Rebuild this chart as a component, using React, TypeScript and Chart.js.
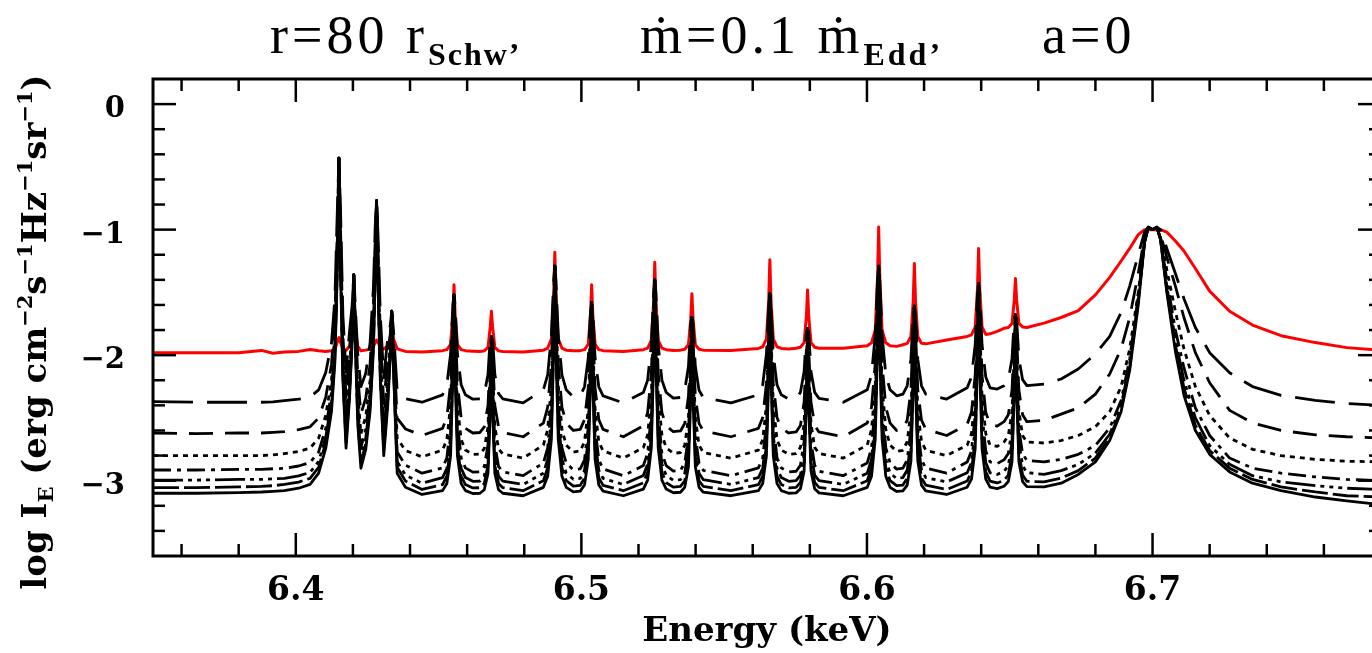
import React, { useEffect, useRef } from "react";
import { Chart, registerables } from "chart.js";

Chart.register(...registerables);

// ---------------- data ----------------
const energyKeV = [
  6.35, 6.365, 6.38, 6.388, 6.392,
  6.396, 6.401, 6.405, 6.408, 6.4105, 6.4125, 6.4137, 6.4145, 6.4151, 6.4157, 6.4165, 6.4176, 6.4188, 6.4197, 6.4203, 6.4209, 6.4217,
  6.4228, 6.4245, 6.426, 6.4272, 6.4278, 6.4283, 6.4288, 6.4296, 6.4308, 6.4322, 6.4331, 6.4336, 6.4342, 6.4355, 6.4384, 6.4442,
  6.4514, 6.4529, 6.4542, 6.455, 6.4554, 6.4558, 6.4566, 6.4579, 6.4594, 6.462,
  6.4645, 6.466, 6.4673, 6.4681, 6.4685, 6.4689, 6.4697, 6.471, 6.4725, 6.4796,
  6.4867, 6.4882, 6.4895, 6.4903, 6.4907, 6.4911, 6.4919, 6.4932, 6.4947, 6.4972,
  6.4996, 6.5011, 6.5024, 6.5032, 6.5036, 6.504, 6.5048, 6.5061, 6.5076, 6.5147,
  6.5217, 6.5232, 6.5245, 6.5253, 6.5257, 6.5261, 6.5269, 6.5282, 6.5297, 6.5322,
  6.5347, 6.5362, 6.5375, 6.5383, 6.5387, 6.5391, 6.5399, 6.5412, 6.5427, 6.5524,
  6.562, 6.5635, 6.5648, 6.5656, 6.566, 6.5664, 6.5672, 6.5685, 6.57, 6.5726,
  6.5752, 6.5767, 6.578, 6.5788, 6.5792, 6.5796, 6.5804, 6.5817, 6.5832, 6.5917,
  6.6001, 6.6016, 6.6029, 6.6037, 6.6041, 6.6045, 6.6053, 6.6066, 6.6081, 6.6104,
  6.6126, 6.6141, 6.6154, 6.6162, 6.6166, 6.617, 6.6178, 6.6191, 6.6206, 6.6279,
  6.6351, 6.6366, 6.6379, 6.6387, 6.6391, 6.6395, 6.6403, 6.6416, 6.6431, 6.6456,
  6.648, 6.6495, 6.6508, 6.6516, 6.652, 6.6524, 6.6532, 6.6545, 6.656,
  6.662, 6.668, 6.674, 6.68, 6.685, 6.689, 6.692, 6.695, 6.6972, 6.6985, 6.7, 6.7015, 6.7028, 6.705, 6.708, 6.711,
  6.715, 6.72, 6.727, 6.735, 6.745, 6.757, 6.768, 6.78,
];

const redSolid = [
  -1.98, -1.98, -1.98, -1.962, -1.985,
  -1.975, -1.97, -1.955, -1.965, -1.97, -1.965, -1.95, -1.9, -1.86, -1.9, -1.95, -1.96, -1.93, -1.8, -1.64, -1.8, -1.93,
  -1.965, -1.96, -1.95, -1.93, -1.9, -1.88, -1.9, -1.93, -1.95, -1.93, -1.85, -1.77, -1.87, -1.95, -1.97, -1.975,
  -1.964, -1.956, -1.913, -1.679, -1.44, -1.679, -1.913, -1.956, -1.964, -1.968,
  -1.971, -1.966, -1.938, -1.773, -1.65, -1.773, -1.938, -1.966, -1.971, -1.975,
  -1.96, -1.944, -1.871, -1.534, -1.18, -1.534, -1.871, -1.944, -1.96, -1.965,
  -1.964, -1.956, -1.913, -1.679, -1.44, -1.679, -1.913, -1.956, -1.964, -1.97,
  -1.956, -1.944, -1.882, -1.58, -1.26, -1.58, -1.882, -1.944, -1.956, -1.962,
  -1.96, -1.953, -1.917, -1.709, -1.51, -1.709, -1.917, -1.953, -1.96, -1.962,
  -1.946, -1.933, -1.87, -1.564, -1.24, -1.564, -1.87, -1.933, -1.946, -1.95,
  -1.945, -1.937, -1.9, -1.688, -1.48, -1.688, -1.9, -1.937, -1.945, -1.945,
  -1.925, -1.902, -1.8, -1.388, -0.98, -1.388, -1.8, -1.902, -1.925, -1.93,
  -1.917, -1.906, -1.85, -1.569, -1.27, -1.569, -1.85, -1.906, -1.91, -1.88,
  -1.851, -1.839, -1.776, -1.472, -1.15, -1.472, -1.776, -1.835, -1.83, -1.81,
  -1.786, -1.779, -1.747, -1.558, -1.39, -1.558, -1.747, -1.775, -1.78,
  -1.745, -1.7, -1.645, -1.52, -1.38, -1.25, -1.15, -1.04, -1.0, -1.0, -1.0, -1.0, -1.0, -1.02, -1.09, -1.17,
  -1.31, -1.49, -1.65, -1.76, -1.845, -1.9, -1.94, -1.96,
];

const blackLongDash = [
  -2.37, -2.375, -2.375, -2.375, -2.372,
  -2.363, -2.351, -2.333, -2.277, -2.137, -1.904, -1.546, -0.88, -0.43, -0.88, -1.685, -2.137, -1.816, -1.61, -1.36, -1.63, -1.988,
  -2.251, -2.144, -1.904, -1.451, -0.98, -0.77, -1.05, -1.685, -2.18, -1.861, -1.76, -1.65, -1.8, -2.277, -2.347, -2.375,
  -2.316, -2.236, -1.991, -1.601, -1.52, -1.601, -1.991, -2.236, -2.316, -2.351,
  -2.348, -2.307, -2.155, -1.856, -1.85, -1.856, -2.155, -2.307, -2.348, -2.38,
  -2.276, -2.157, -1.841, -1.402, -1.29, -1.402, -1.841, -2.157, -2.276, -2.332,
  -2.324, -2.252, -2.025, -1.651, -1.58, -1.651, -2.025, -2.252, -2.324, -2.38,
  -2.297, -2.199, -1.917, -1.499, -1.4, -1.499, -1.917, -2.199, -2.297, -2.342,
  -2.337, -2.28, -2.088, -1.745, -1.7, -1.745, -2.088, -2.28, -2.337, -2.38,
  -2.316, -2.236, -1.991, -1.601, -1.51, -1.601, -1.991, -2.236, -2.316, -2.35,
  -2.344, -2.297, -2.13, -1.813, -1.79, -1.813, -2.13, -2.297, -2.344, -2.375,
  -2.276, -2.157, -1.841, -1.402, -1.29, -1.402, -1.841, -2.157, -2.276, -2.324,
  -2.31, -2.244, -2.032, -1.671, -1.61, -1.671, -2.032, -2.244, -2.31, -2.35,
  -2.26, -2.174, -1.917, -1.518, -1.43, -1.518, -1.917, -2.174, -2.26, -2.27,
  -2.243, -2.195, -2.026, -1.705, -1.68, -1.705, -2.026, -2.195, -2.243,
  -2.23, -2.19, -2.11, -1.99, -1.85, -1.66, -1.45, -1.2, -1.02, -0.98, -1.0, -0.98, -1.0, -1.15, -1.35, -1.55,
  -1.78, -1.98, -2.14, -2.25, -2.32, -2.36, -2.385, -2.4,
];

const blackDash = [
  -2.62, -2.625, -2.62, -2.62, -2.615,
  -2.609, -2.594, -2.571, -2.501, -2.334, -2.074, -1.696, -1.03, -0.43, -1.03, -1.84, -2.334, -1.98, -1.69, -1.36, -1.72, -2.166,
  -2.469, -2.343, -2.074, -1.598, -1.08, -0.77, -1.16, -1.84, -2.385, -2.028, -1.83, -1.65, -1.88, -2.501, -2.588, -2.64,
  -2.583, -2.497, -2.225, -1.719, -1.52, -1.719, -2.225, -2.497, -2.583, -2.62,
  -2.616, -2.572, -2.4, -1.995, -1.85, -1.995, -2.4, -2.572, -2.616, -2.65,
  -2.541, -2.415, -2.067, -1.51, -1.29, -1.51, -2.067, -2.415, -2.541, -2.6,
  -2.591, -2.514, -2.261, -1.772, -1.58, -1.772, -2.261, -2.514, -2.591, -2.65,
  -2.563, -2.458, -2.146, -1.611, -1.4, -1.611, -2.146, -2.458, -2.563, -2.61,
  -2.604, -2.543, -2.327, -1.874, -1.7, -1.874, -2.327, -2.543, -2.604, -2.65,
  -2.583, -2.497, -2.225, -1.719, -1.51, -1.719, -2.225, -2.497, -2.583, -2.62,
  -2.612, -2.561, -2.372, -1.948, -1.79, -1.948, -2.372, -2.561, -2.612, -2.65,
  -2.541, -2.415, -2.067, -1.51, -1.29, -1.51, -2.067, -2.415, -2.541, -2.6,
  -2.59, -2.518, -2.276, -1.797, -1.61, -1.797, -2.276, -2.518, -2.59, -2.64,
  -2.552, -2.455, -2.16, -1.637, -1.43, -1.637, -2.16, -2.455, -2.552, -2.565,
  -2.53, -2.475, -2.278, -1.843, -1.68, -1.843, -2.278, -2.475, -2.53,
  -2.52, -2.47, -2.42, -2.31, -2.15, -1.95, -1.7, -1.35, -1.06, -0.98, -1.0, -0.98, -1.04, -1.22, -1.45, -1.7,
  -1.98, -2.22, -2.44, -2.54, -2.6, -2.635, -2.65, -2.66,
];

const blackDotted = [
  -2.8, -2.8, -2.8, -2.8, -2.795,
  -2.784, -2.767, -2.741, -2.661, -2.479, -2.203, -1.815, -1.15, -0.43, -1.15, -1.963, -2.479, -2.106, -1.76, -1.36, -1.79, -2.299,
  -2.626, -2.488, -2.203, -1.716, -1.17, -0.77, -1.25, -1.963, -2.534, -2.156, -1.89, -1.65, -1.95, -2.662, -2.76, -2.81,
  -2.756, -2.672, -2.397, -1.823, -1.52, -1.823, -2.397, -2.672, -2.756, -2.79,
  -2.788, -2.745, -2.571, -2.106, -1.85, -2.106, -2.571, -2.745, -2.788, -2.82,
  -2.716, -2.592, -2.24, -1.611, -1.29, -1.611, -2.24, -2.592, -2.716, -2.772,
  -2.763, -2.689, -2.433, -1.877, -1.58, -1.877, -2.433, -2.689, -2.763, -2.82,
  -2.737, -2.635, -2.319, -1.713, -1.4, -1.713, -2.319, -2.635, -2.737, -2.782,
  -2.776, -2.717, -2.499, -1.981, -1.7, -1.981, -2.499, -2.717, -2.776, -2.82,
  -2.756, -2.672, -2.397, -1.823, -1.51, -1.823, -2.397, -2.672, -2.756, -2.79,
  -2.784, -2.735, -2.544, -2.057, -1.79, -2.057, -2.544, -2.735, -2.784, -2.82,
  -2.716, -2.592, -2.24, -1.611, -1.29, -1.611, -2.24, -2.592, -2.716, -2.766,
  -2.758, -2.689, -2.446, -1.902, -1.61, -1.902, -2.446, -2.689, -2.758, -2.8,
  -2.717, -2.624, -2.33, -1.739, -1.43, -1.739, -2.33, -2.624, -2.717, -2.727,
  -2.692, -2.641, -2.445, -1.95, -1.68, -1.95, -2.445, -2.641, -2.692,
  -2.7, -2.68, -2.64, -2.57, -2.45, -2.25, -1.95, -1.5, -1.1, -0.98, -1.0, -0.98, -1.06, -1.32, -1.65, -1.95,
  -2.25, -2.48, -2.66, -2.75, -2.8, -2.83, -2.845, -2.85,
];

const blackDashDot = [
  -2.915, -2.915, -2.91, -2.91, -2.905,
  -2.902, -2.883, -2.855, -2.771, -2.579, -2.296, -1.902, -1.23, -0.43, -1.23, -2.052, -2.579, -2.197, -1.82, -1.36, -1.85, -2.394,
  -2.734, -2.589, -2.296, -1.803, -1.24, -0.77, -1.33, -2.052, -2.637, -2.248, -1.93, -1.65, -2.0, -2.771, -2.876, -2.94,
  -2.898, -2.817, -2.541, -1.922, -1.52, -1.922, -2.541, -2.817, -2.898, -2.932,
  -2.929, -2.887, -2.714, -2.209, -1.85, -2.209, -2.714, -2.887, -2.929, -2.96,
  -2.859, -2.739, -2.385, -1.709, -1.29, -1.709, -2.385, -2.739, -2.859, -2.914,
  -2.906, -2.833, -2.577, -1.977, -1.58, -1.977, -2.577, -2.833, -2.906, -2.96,
  -2.88, -2.78, -2.464, -1.811, -1.4, -1.811, -2.464, -2.78, -2.88, -2.923,
  -2.918, -2.86, -2.643, -2.083, -1.7, -2.083, -2.643, -2.86, -2.918, -2.96,
  -2.898, -2.817, -2.541, -1.922, -1.51, -1.922, -2.541, -2.817, -2.898, -2.93,
  -2.925, -2.878, -2.688, -2.159, -1.79, -2.159, -2.688, -2.878, -2.925, -2.96,
  -2.859, -2.739, -2.385, -1.709, -1.29, -1.709, -2.385, -2.739, -2.859, -2.908,
  -2.9, -2.833, -2.59, -2.002, -1.61, -2.002, -2.59, -2.833, -2.9, -2.94,
  -2.851, -2.763, -2.471, -1.836, -1.43, -1.836, -2.471, -2.763, -2.851, -2.864,
  -2.834, -2.784, -2.588, -2.053, -1.68, -2.053, -2.588, -2.784, -2.84,
  -2.85, -2.83, -2.79, -2.72, -2.58, -2.36, -2.03, -1.53, -1.1, -0.98, -1.0, -0.98, -1.07, -1.4, -1.8, -2.1,
  -2.42, -2.64, -2.82, -2.9, -2.94, -2.97, -2.99, -3.0,
];

const blackDashDotDot = [
  -2.995, -2.995, -2.99, -2.99, -2.985,
  -2.981, -2.962, -2.934, -2.847, -2.652, -2.367, -1.971, -1.29, -0.43, -1.29, -2.121, -2.652, -2.266, -1.86, -1.36, -1.89, -2.465,
  -2.809, -2.662, -2.367, -1.871, -1.29, -0.77, -1.39, -2.121, -2.71, -2.317, -1.96, -1.65, -2.05, -2.847, -2.955, -3.02,
  -2.975, -2.901, -2.64, -2.004, -1.52, -2.004, -2.64, -2.901, -2.975, -3.005,
  -3.003, -2.965, -2.805, -2.29, -1.85, -2.29, -2.805, -2.965, -3.003, -3.03,
  -2.94, -2.83, -2.49, -1.791, -1.29, -1.791, -2.49, -2.83, -2.94, -2.989,
  -2.982, -2.916, -2.674, -2.058, -1.58, -2.058, -2.674, -2.916, -2.982, -3.03,
  -2.958, -2.867, -2.567, -1.893, -1.4, -1.893, -2.567, -2.867, -2.958, -2.997,
  -2.992, -2.941, -2.738, -2.164, -1.7, -2.164, -2.738, -2.941, -2.992, -3.03,
  -2.975, -2.901, -2.64, -2.004, -1.51, -2.004, -2.64, -2.901, -2.975, -3.005,
  -2.999, -2.956, -2.78, -2.24, -1.79, -2.24, -2.78, -2.956, -2.999, -3.03,
  -2.94, -2.83, -2.49, -1.791, -1.29, -1.791, -2.49, -2.83, -2.94, -2.983,
  -2.975, -2.914, -2.686, -2.084, -1.61, -2.084, -2.686, -2.914, -2.975, -3.01,
  -2.937, -2.855, -2.574, -1.919, -1.43, -1.919, -2.574, -2.855, -2.937, -2.95,
  -2.926, -2.88, -2.691, -2.137, -1.68, -2.137, -2.691, -2.88, -2.935,
  -2.95, -2.92, -2.87, -2.78, -2.63, -2.4, -2.07, -1.55, -1.1, -0.98, -1.0, -0.98, -1.07, -1.45, -1.88, -2.2,
  -2.5, -2.72, -2.87, -2.96, -3.01, -3.04, -3.06, -3.07,
];

const blackShortDash = [
  -3.055, -3.055, -3.05, -3.045, -3.04,
  -3.03, -3.011, -2.981, -2.893, -2.697, -2.407, -2.01, -1.33, -0.43, -1.33, -2.16, -2.697, -2.306, -1.89, -1.36, -1.92, -2.507,
  -2.854, -2.705, -2.407, -1.91, -1.33, -0.77, -1.43, -2.16, -2.754, -2.357, -1.98, -1.65, -2.08, -2.893, -3.003, -3.07,
  -3.031, -2.964, -2.72, -2.079, -1.52, -2.079, -2.72, -2.964, -3.031, -3.058,
  -3.056, -3.023, -2.876, -2.363, -1.85, -2.363, -2.876, -3.023, -3.056, -3.08,
  -3.0, -2.899, -2.577, -1.867, -1.29, -1.867, -2.577, -2.899, -3.0, -3.043,
  -3.037, -2.977, -2.753, -2.133, -1.58, -2.133, -2.753, -2.977, -3.037, -3.08,
  -3.017, -2.933, -2.65, -1.969, -1.4, -1.969, -2.65, -2.933, -3.017, -3.051,
  -3.046, -3.001, -2.812, -2.238, -1.7, -2.238, -2.812, -3.001, -3.046, -3.08,
  -3.031, -2.964, -2.72, -2.079, -1.51, -2.079, -2.72, -2.964, -3.031, -3.057,
  -3.053, -3.014, -2.852, -2.314, -1.79, -2.314, -2.852, -3.014, -3.053, -3.08,
  -3.0, -2.899, -2.577, -1.867, -1.29, -1.867, -2.577, -2.899, -3.0, -3.04,
  -3.035, -2.98, -2.766, -2.159, -1.61, -2.159, -2.766, -2.98, -3.035, -3.07,
  -3.003, -2.927, -2.66, -1.996, -1.43, -1.996, -2.66, -2.927, -3.003, -3.018,
  -2.998, -2.955, -2.776, -2.214, -1.68, -2.214, -2.776, -2.955, -3.005,
  -3.01, -2.98, -2.92, -2.82, -2.66, -2.43, -2.1, -1.57, -1.1, -0.98, -1.0, -0.98, -1.08, -1.48, -1.92, -2.26,
  -2.56, -2.76, -2.9, -2.99, -3.05, -3.09, -3.12, -3.13,
];

const blackSolid = [
  -3.1, -3.1, -3.095, -3.09, -3.085,
  -3.08, -3.06, -3.03, -2.94, -2.741, -2.45, -2.052, -1.35, -0.43, -1.35, -2.202, -2.741, -2.349, -1.91, -1.36, -1.95, -2.55,
  -2.901, -2.751, -2.45, -1.952, -1.35, -0.77, -1.45, -2.202, -2.8, -2.401, -2.0, -1.65, -2.1, -2.941, -3.053, -3.11,
  -3.079, -3.022, -2.802, -2.168, -1.52, -2.168, -2.802, -3.022, -3.079, -3.102,
  -3.1, -3.072, -2.943, -2.446, -1.85, -2.446, -2.943, -3.072, -3.1, -3.12,
  -3.053, -2.965, -2.669, -1.957, -1.29, -1.957, -2.669, -2.965, -3.053, -3.089,
  -3.083, -3.034, -2.832, -2.221, -1.58, -2.221, -2.832, -3.034, -3.083, -3.12,
  -3.067, -2.995, -2.736, -2.059, -1.4, -2.059, -2.736, -2.995, -3.067, -3.096,
  -3.092, -3.053, -2.887, -2.324, -1.7, -2.324, -2.887, -3.053, -3.092, -3.12,
  -3.079, -3.022, -2.802, -2.168, -1.51, -2.168, -2.802, -3.022, -3.079, -3.1,
  -3.097, -3.065, -2.922, -2.398, -1.79, -2.398, -2.922, -3.065, -3.097, -3.12,
  -3.053, -2.965, -2.669, -1.957, -1.29, -1.957, -2.669, -2.965, -3.053, -3.086,
  -3.081, -3.035, -2.843, -2.246, -1.61, -2.246, -2.843, -3.035, -3.081, -3.11,
  -3.052, -2.987, -2.744, -2.085, -1.43, -2.085, -2.744, -2.987, -3.052, -3.063,
  -3.044, -3.007, -2.849, -2.298, -1.68, -2.298, -2.849, -3.007, -3.048,
  -3.05, -3.02, -2.95, -2.85, -2.68, -2.45, -2.12, -1.6, -1.1, -0.98, -1.0, -0.98, -1.08, -1.5, -1.97, -2.32,
  -2.6, -2.79, -2.93, -3.02, -3.08, -3.13, -3.16, -3.19,
];

const xMajorTicks = [6.4, 6.5, 6.6, 6.7];
const xTickLabels = ["6.4", "6.5", "6.6", "6.7"];
const xMinorTicks = [6.36, 6.38, 6.42, 6.44, 6.46, 6.48, 6.52, 6.54, 6.56, 6.58, 6.62, 6.64, 6.66, 6.68, 6.72, 6.74, 6.76];
const yMajorTicks = [0, -1, -2, -3];
const yTickLabels = ["0", "\u22121", "\u22122", "\u22123"];
const yMinorTicks = [-0.2, -0.4, -0.6, -0.8, -1.2, -1.4, -1.6, -1.8, -2.2, -2.4, -2.6, -2.8, -3.2, -3.4];

const X_MIN = 6.35;
const X_MAX = 6.78;
const Y_MIN = -3.6;
const Y_MAX = 0.2;

// ---------------- layout ----------------
const CANVAS_W = 1400;
const CANVAS_H = 653;
const AREA = { left: 153, top: 79, right: 1381, bottom: 556 };

type Seg = { t: string; font: string; dy?: number; ls?: string };

function segWidth(ctx: CanvasRenderingContext2D, segs: Seg[]) {
  let total = 0;
  for (const s of segs) {
    ctx.font = s.font;
    (ctx as any).letterSpacing = s.ls || "0px";
    total += ctx.measureText(s.t).width;
  }
  return total;
}

function drawRichLeft(ctx: CanvasRenderingContext2D, segs: Seg[], x: number, y: number) {
  let cx = x;
  ctx.textAlign = "left";
  ctx.textBaseline = "alphabetic";
  for (const s of segs) {
    ctx.font = s.font;
    (ctx as any).letterSpacing = s.ls || "0px";
    ctx.fillText(s.t, cx, y + (s.dy || 0));
    cx += ctx.measureText(s.t).width;
  }
  (ctx as any).letterSpacing = "0px";
}

function drawRichCenter(ctx: CanvasRenderingContext2D, segs: Seg[], x: number, y: number) {
  const w = segWidth(ctx, segs);
  drawRichLeft(ctx, segs, x - w / 2, y);
}

const framePlugin = {
  id: "frameTicks",
  afterDraw(chart: any) {
    const { ctx, chartArea: a, scales } = chart;
    const x = scales.x;
    const y = scales.y;
    ctx.save();
    ctx.strokeStyle = "#000";
    ctx.fillStyle = "#000";
    ctx.lineWidth = 3;
    ctx.strokeRect(a.left, a.top, a.right - a.left, a.bottom - a.top);

    const seg = (x1: number, y1: number, x2: number, y2: number) => {
      ctx.beginPath();
      ctx.moveTo(x1, y1);
      ctx.lineTo(x2, y2);
      ctx.stroke();
    };
    ctx.lineWidth = 2.5;
    const MAJ = 23;
    const MIN = 12;
    for (const v of xMajorTicks) {
      const p = x.getPixelForValue(v);
      seg(p, a.bottom, p, a.bottom - MAJ);
      seg(p, a.top, p, a.top + MAJ);
    }
    for (const v of xMinorTicks) {
      const p = x.getPixelForValue(v);
      seg(p, a.bottom, p, a.bottom - MIN);
      seg(p, a.top, p, a.top + MIN);
    }
    for (const v of yMajorTicks) {
      const p = y.getPixelForValue(v);
      seg(a.left, p, a.left + MAJ, p);
      seg(a.right, p, a.right - MAJ, p);
    }
    for (const v of yMinorTicks) {
      const p = y.getPixelForValue(v);
      seg(a.left, p, a.left + MIN, p);
      seg(a.right, p, a.right - MIN, p);
    }

    // tick labels
    ctx.font = 'bold 33px "DejaVu Serif"';
    ctx.textAlign = "center";
    ctx.textBaseline = "alphabetic";
    xMajorTicks.forEach((v, i) => {
      ctx.fillText(xTickLabels[i], x.getPixelForValue(v), a.bottom + 44);
    });
    ctx.font = 'bold 29px "DejaVu Serif"';
    ctx.textAlign = "right";
    yMajorTicks.forEach((v, i) => {
      ctx.fillText(yTickLabels[i], a.left - 28, y.getPixelForValue(v) + 13);
    });

    // x axis title
    ctx.font = 'bold 34px "DejaVu Serif"';
    ctx.textAlign = "center";
    ctx.fillText("Energy (keV)", (a.left + a.right) / 2, 641);

    // y axis title
    const F = 'bold 34px "DejaVu Serif"';
    const S = 'bold 21px "DejaVu Serif"';
    ctx.save();
    ctx.translate(46, 332);
    ctx.rotate(-Math.PI / 2);
    drawRichCenter(
      ctx,
      [
        { t: "log I", font: F },
        { t: "E", font: S, dy: 7 },
        { t: " (erg cm", font: F },
        { t: "\u22122", font: S, dy: -14 },
        { t: "s", font: F },
        { t: "\u22121", font: S, dy: -14 },
        { t: "Hz", font: F },
        { t: "\u22121", font: S, dy: -14 },
        { t: "sr", font: F },
        { t: "\u22121", font: S, dy: -14 },
        { t: ")", font: F },
      ],
      0,
      0
    );
    ctx.restore();

    // title
    const T = '54px "Liberation Serif"';
    const TS = 'bold 32px "Liberation Serif"';
    const base = 53;
    drawRichLeft(
      ctx,
      [
        { t: "r=80 r", font: T, ls: "4px" },
        { t: "Schw", font: TS, dy: 12, ls: "2px" },
        { t: "\u2019", font: TS, dy: 12 },
      ],
      270,
      base
    );
    drawRichLeft(
      ctx,
      [
        { t: "\u1E41=0.1 \u1E41", font: T, ls: "4px" },
        { t: "Edd", font: TS, dy: 12, ls: "3px" },
        { t: "\u2019", font: TS, dy: 12 },
      ],
      640,
      base
    );
    drawRichLeft(ctx, [{ t: "a=0", font: T, ls: "4px" }], 1042, base);
    ctx.restore();
  },
};

function makeData(vals: number[]) {
  return energyKeV.map((e, i) => ({ x: e, y: vals[i] }));
}

export default function App() {
  const ref = useRef<HTMLCanvasElement | null>(null);

  useEffect(() => {
    if (!ref.current) return;
    const black = (vals: number[], dash: number[]) => ({
      data: makeData(vals),
      borderColor: "#000",
      borderWidth: 2.8,
      borderDash: dash,
      pointRadius: 0,
      tension: 0,
      fill: false,
      borderJoinStyle: "round" as const,
    });
    const chart = new Chart(ref.current, {
      type: "line",
      data: {
        datasets: [
          black(blackSolid, []),
          black(blackShortDash, [26, 5]),
          black(blackDashDotDot, [30, 5, 4, 5, 4, 5, 4, 5]),
          black(blackDashDot, [18, 6, 4, 6]),
          black(blackDotted, [5, 5]),
          black(blackDash, [24, 12]),
          black(blackLongDash, [40, 14]),
          {
            data: makeData(redSolid),
            borderColor: "#ff0000",
            borderWidth: 3,
            pointRadius: 0,
            tension: 0,
            fill: false,
            borderJoinStyle: "round" as const,
          },
        ],
      },
      options: {
        responsive: false,
        devicePixelRatio: 1,
        animation: false,
        events: [],
        layout: {
          padding: {
            left: AREA.left,
            top: AREA.top,
            right: CANVAS_W - AREA.right,
            bottom: CANVAS_H - AREA.bottom,
          },
        },
        scales: {
          x: { type: "linear", min: X_MIN, max: X_MAX, display: false },
          y: { type: "linear", min: Y_MIN, max: Y_MAX, display: false },
        },
        plugins: {
          legend: { display: false },
          tooltip: { enabled: false },
          title: { display: false },
        },
      },
      plugins: [framePlugin],
    });
    return () => chart.destroy();
  }, []);

  return (
    <div
      style={{
        position: "fixed",
        left: 0,
        top: 0,
        width: 1372,
        height: 653,
        overflow: "hidden",
        background: "#fff",
      }}
    >
      <canvas
        ref={ref}
        width={CANVAS_W}
        height={CANVAS_H}
        style={{ display: "block", width: CANVAS_W, height: CANVAS_H }}
      />
    </div>
  );
}
